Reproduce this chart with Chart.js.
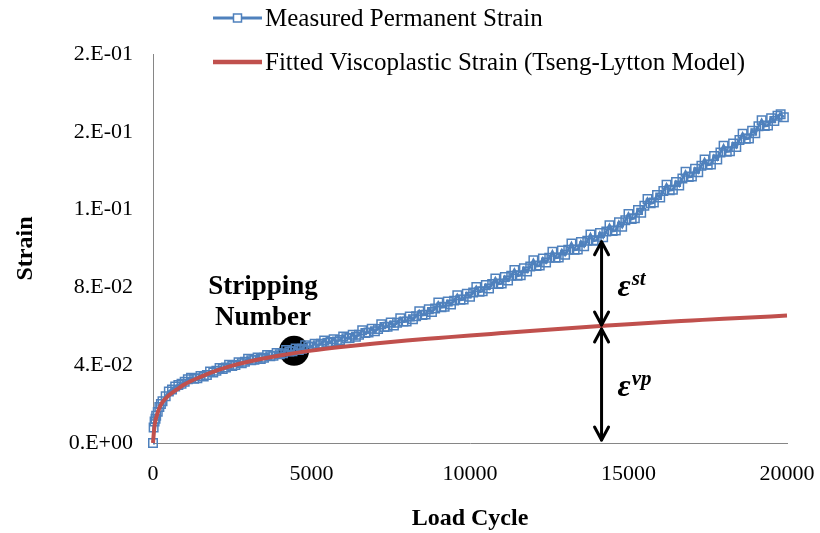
<!DOCTYPE html>
<html>
<head>
<meta charset="utf-8">
<title>Permanent strain vs load cycle</title>
<script src="https://cdn.jsdelivr.net/npm/chart.js@4.4.1/dist/chart.umd.min.js"></script>
<style>
  html, body { margin: 0; padding: 0; background: #fff; }
  #wrap { width: 820px; height: 533px; position: relative; }
</style>
</head>
<body>
<div id="wrap"><canvas id="strainChart"></canvas></div>
<script>
// measured permanent strain from the test log
const measuredCycles = [
  0, 20, 50, 80, 100, 150, 200, 250, 300, 400, 500, 600, 700, 800, 900,
  1000, 1100, 1200, 1300, 1400, 1500, 1600, 1700, 1800, 1900,
  2000, 2100, 2200, 2300, 2400, 2500, 2600, 2700, 2800, 2900,
  3000, 3100, 3200, 3300, 3400, 3500, 3600, 3700, 3800, 3900,
  4000, 4100, 4200, 4300, 4400, 4500, 4600, 4700, 4800, 4900,
  5000, 5100, 5200, 5300, 5400, 5500, 5600, 5700, 5800, 5900,
  6000, 6100, 6200, 6300, 6400, 6500, 6600, 6700, 6800, 6900,
  7000, 7100, 7200, 7300, 7400, 7500, 7600, 7700, 7800, 7900,
  8000, 8100, 8200, 8300, 8400, 8500, 8600, 8700, 8800, 8900,
  9000, 9100, 9200, 9300, 9400, 9500, 9600, 9700, 9800, 9900,
  10000, 10100, 10200, 10300, 10400, 10500, 10600, 10700, 10800, 10900,
  11000, 11100, 11200, 11300, 11400, 11500, 11600, 11700, 11800, 11900,
  12000, 12100, 12200, 12300, 12400, 12500, 12600, 12700, 12800, 12900,
  13000, 13100, 13200, 13300, 13400, 13500, 13600, 13700, 13800, 13900,
  14000, 14100, 14200, 14300, 14400, 14500, 14600, 14700, 14800, 14900,
  15000, 15100, 15200, 15300, 15400, 15500, 15600, 15700, 15800, 15900,
  16000, 16100, 16200, 16300, 16400, 16500, 16600, 16700, 16800, 16900,
  17000, 17100, 17200, 17300, 17400, 17500, 17600, 17700, 17800, 17900,
  18000, 18100, 18200, 18300, 18400, 18500, 18600, 18700, 18800, 18900,
  19000, 19100, 19200, 19300, 19400, 19500, 19600, 19700, 19800, 19900
];
const measuredStrain = [
  0, 0.0080, 0.0110, 0.0125, 0.0140, 0.0160, 0.0185, 0.0200, 0.0215, 0.0240, 0.0265, 0.0275, 0.0290, 0.0298, 0.0305,
  0.0315, 0.0328, 0.0335, 0.0330, 0.0333, 0.0345, 0.0342, 0.0350, 0.0368, 0.0362,
  0.0372, 0.0385, 0.0380, 0.0388, 0.0402, 0.0396, 0.0401, 0.0415, 0.0410, 0.0418,
  0.0433, 0.0425, 0.0428, 0.0440, 0.0432, 0.0438, 0.0452, 0.0446, 0.0449, 0.0463,
  0.0456, 0.0462, 0.0478, 0.0470, 0.0472, 0.0486, 0.0478, 0.0485, 0.0502, 0.0494,
  0.0496, 0.0510, 0.0502, 0.0510, 0.0527, 0.0516, 0.0519, 0.0533, 0.0522, 0.0530,
  0.0548, 0.0538, 0.0540, 0.0557, 0.0546, 0.0556, 0.0580, 0.0566, 0.0568, 0.0588,
  0.0575, 0.0586, 0.0610, 0.0596, 0.0598, 0.0620, 0.0604, 0.0618, 0.0642, 0.0624,
  0.0625, 0.0650, 0.0636, 0.0652, 0.0678, 0.0658, 0.0660, 0.0688, 0.0674, 0.0692,
  0.0722, 0.0698, 0.0700, 0.0728, 0.0712, 0.0732, 0.0760, 0.0736, 0.0738, 0.0768,
  0.0752, 0.0774, 0.0802, 0.0778, 0.0780, 0.0812, 0.0794, 0.0818, 0.0846, 0.0818,
  0.0820, 0.0854, 0.0836, 0.0860, 0.0890, 0.0860, 0.0862, 0.0898, 0.0882, 0.0908,
  0.0940, 0.0910, 0.0912, 0.0948, 0.0928, 0.0952, 0.0983, 0.0952, 0.0954, 0.0990,
  0.0968, 0.0994, 0.1026, 0.0993, 0.0995, 0.1034, 0.1012, 0.1040, 0.1072, 0.1040,
  0.1042, 0.1080, 0.1058, 0.1088, 0.1120, 0.1090, 0.1092, 0.1135, 0.1112, 0.1145,
  0.1178, 0.1152, 0.1156, 0.1198, 0.1184, 0.1220, 0.1255, 0.1232, 0.1236, 0.1275,
  0.1262, 0.1296, 0.1328, 0.1300, 0.1302, 0.1342, 0.1324, 0.1360, 0.1394, 0.1368,
  0.1370, 0.1410, 0.1392, 0.1426, 0.1458, 0.1430, 0.1432, 0.1475, 0.1458, 0.1494,
  0.1528, 0.1498, 0.1500, 0.1540, 0.1522, 0.1558, 0.1590, 0.1564, 0.1566, 0.1606,
  0.1592, 0.1628, 0.1660, 0.1630, 0.1632, 0.1670, 0.1655, 0.1682, 0.1690, 0.1675
];

// Tseng-Lytton viscoplastic fit
const fittedCycles = [
  0, 25, 50, 100, 200, 300, 500, 750, 1000, 1500, 2000, 2500, 3000,
  4000, 5000, 6000, 7000, 8000, 9000, 10000, 11000, 12000, 13000,
  14000, 15000, 16000, 17000, 18000, 19000, 20000
];
const fittedStrain = [
  0, 0.0050, 0.0090, 0.0130, 0.0180, 0.0210, 0.0245, 0.0275, 0.0302, 0.0340, 0.0372, 0.0398, 0.0418,
  0.0450, 0.0475, 0.0495, 0.0512, 0.0527, 0.0540, 0.0553, 0.0565, 0.0577, 0.0589,
  0.0600, 0.0611, 0.0621, 0.0630, 0.0639, 0.0647, 0.0655
];

const xTicks = [0, 5000, 10000, 15000, 20000];
const yTicks = [0, 0.04, 0.08, 0.12, 0.16, 0.20];

// stripping number marker and the strain split shown with arrows
const strippingCycle = 4450;
const strippingStrain = 0.0474;
const splitCycle = 14150;
const splitMeasured = 0.1040;

const blue = '#4F81BD';
const red = '#C0504D';
const serif = '"Liberation Serif", "Times New Roman", serif';

function toPoints(xs, ys) {
  return xs.map((x, i) => ({ x: x, y: ys[i] }));
}

// Excel style "0.E+00" labels
function sciLabel(v) {
  const parts = v.toExponential(0).split('e');
  const exp = parseInt(parts[1], 10);
  return parts[0] + '.E' + (exp < 0 ? '-' : '+') + String(Math.abs(exp)).padStart(2, '0');
}

function fittedAt(c) {
  for (let i = 1; i < fittedCycles.length; i++) {
    if (c <= fittedCycles[i]) {
      const t = (c - fittedCycles[i - 1]) / (fittedCycles[i] - fittedCycles[i - 1]);
      return fittedStrain[i - 1] + t * (fittedStrain[i] - fittedStrain[i - 1]);
    }
  }
  return fittedStrain[fittedStrain.length - 1];
}

function arrowHead(ctx, x, tipY, dir) {
  ctx.beginPath();
  ctx.moveTo(x - 7, tipY - dir * 13);
  ctx.lineTo(x, tipY);
  ctx.lineTo(x + 7, tipY - dir * 13);
  ctx.stroke();
}

function epsLabel(ctx, x, midY, sup) {
  ctx.textAlign = 'left';
  ctx.textBaseline = 'alphabetic';
  ctx.font = 'italic bold 32px ' + serif;
  ctx.fillText('\u03b5', x, midY + 13);
  const w = ctx.measureText('\u03b5').width;
  ctx.font = 'italic bold 21px ' + serif;
  ctx.fillText(sup, x + w + 1, midY + 2);
}

const annotations = {
  id: 'annotations',
  afterDatasetsDraw(chart) {
    const ctx = chart.ctx;
    const xs = chart.scales.x, ys = chart.scales.y;
    ctx.save();
    ctx.strokeStyle = '#000';
    ctx.fillStyle = '#000';
    ctx.lineWidth = 3;
    ctx.lineCap = 'round';
    ctx.lineJoin = 'round';

    const ax = xs.getPixelForValue(splitCycle);
    const yTop = ys.getPixelForValue(splitMeasured);
    const yMid = ys.getPixelForValue(fittedAt(splitCycle));
    const yBot = ys.getPixelForValue(0) - 3;

    // upper arrow: stripping strain
    ctx.beginPath();
    ctx.moveTo(ax, yTop + 1);
    ctx.lineTo(ax, yMid - 1);
    ctx.stroke();
    arrowHead(ctx, ax, yTop + 1, -1);
    arrowHead(ctx, ax, yMid - 1, 1);

    // lower arrow: viscoplastic strain
    ctx.beginPath();
    ctx.moveTo(ax, yMid + 3);
    ctx.lineTo(ax, yBot);
    ctx.stroke();
    arrowHead(ctx, ax, yMid + 3, -1);
    arrowHead(ctx, ax, yBot, 1);

    epsLabel(ctx, ax + 16, (yTop + yMid) / 2, 'st');
    epsLabel(ctx, ax + 16, (yMid + yBot) / 2, 'vp');

    // stripping number caption
    const sx = xs.getPixelForValue(strippingCycle);
    const sy = ys.getPixelForValue(strippingStrain);
    ctx.font = 'bold 27px ' + serif;
    ctx.textAlign = 'center';
    ctx.textBaseline = 'middle';
    ctx.fillText('Stripping', sx - 31, sy - 64);
    ctx.fillText('Number', sx - 31, sy - 33);
    ctx.restore();
  },
  afterDraw(chart) {
    const ctx = chart.ctx;
    ctx.save();
    ctx.font = '25px ' + serif;
    ctx.textAlign = 'left';
    ctx.textBaseline = 'middle';
    ctx.fillStyle = '#000';

    // measured series key
    ctx.strokeStyle = blue;
    ctx.lineWidth = 3;
    ctx.beginPath();
    ctx.moveTo(213, 18);
    ctx.lineTo(262, 18);
    ctx.stroke();
    ctx.lineWidth = 1.5;
    ctx.fillStyle = '#fff';
    ctx.fillRect(233.5, 14, 8, 8);
    ctx.strokeRect(233.5, 14, 8, 8);
    ctx.fillStyle = '#000';
    ctx.fillText('Measured Permanent Strain', 265, 19);

    // fitted series key
    ctx.strokeStyle = red;
    ctx.lineWidth = 4.5;
    ctx.beginPath();
    ctx.moveTo(213, 62);
    ctx.lineTo(262, 62);
    ctx.stroke();
    ctx.fillText('Fitted Viscoplastic Strain (Tseng-Lytton Model)', 265, 63);
    ctx.restore();
  }
};

new Chart(document.getElementById('strainChart'), {
  type: 'scatter',
  data: {
    datasets: [
      {
        label: 'Fitted Viscoplastic Strain (Tseng-Lytton Model)',
        data: toPoints(fittedCycles, fittedStrain),
        showLine: true,
        borderColor: red,
        borderWidth: 4,
        pointRadius: 0,
        cubicInterpolationMode: 'monotone',
        clip: false,
        order: 0
      },
      {
        label: 'Measured Permanent Strain',
        data: toPoints(measuredCycles, measuredStrain),
        showLine: true,
        borderColor: blue,
        borderWidth: 2.75,
        pointStyle: 'rect',
        pointRadius: 6,
        pointBorderWidth: 1.5,
        pointBorderColor: blue,
        pointBackgroundColor: 'rgba(255,255,255,0)',
        tension: 0,
        clip: false,
        order: 1
      },
      {
        label: 'Stripping Number',
        data: [{ x: strippingCycle, y: strippingStrain }],
        pointRadius: 15,
        pointBackgroundColor: '#000',
        pointBorderWidth: 0,
        order: 2
      }
    ]
  },
  options: {
    responsive: true,
    maintainAspectRatio: false,
    animation: false,
    events: [],
    layout: { padding: { top: 54, right: 33, left: 0, bottom: 0 } },
    plugins: {
      legend: { display: false },
      tooltip: { enabled: false }
    },
    scales: {
      x: {
        type: 'linear',
        min: 0,
        max: 20000,
        afterBuildTicks: s => { s.ticks = xTicks.map(v => ({ value: v })); },
        afterFit: s => { s.height = 90; s.paddingLeft = 0; s.paddingRight = 0; },
        grid: { display: false, drawTicks: false },
        border: { display: true, color: '#868686', width: 1 },
        ticks: {
          color: '#000',
          font: { family: serif, size: 22 },
          padding: 18,
          maxRotation: 0,
          callback: v => String(v)
        },
        title: {
          display: true,
          text: 'Load Cycle',
          color: '#000',
          font: { family: serif, size: 24, weight: 'bold' },
          padding: { top: 0, bottom: 0 }
        }
      },
      y: {
        type: 'linear',
        min: 0,
        max: 0.2,
        afterBuildTicks: s => { s.ticks = yTicks.map(v => ({ value: v })); },
        afterFit: s => { s.width = 153; s.paddingTop = 0; s.paddingBottom = 0; },
        grid: { display: false, drawTicks: false },
        border: { display: true, color: '#868686', width: 1 },
        ticks: {
          color: '#000',
          font: { family: serif, size: 22 },
          padding: 20,
          callback: v => sciLabel(v)
        },
        title: {
          display: true,
          text: 'Strain',
          color: '#000',
          font: { family: serif, size: 24, weight: 'bold' },
          padding: { top: 11, bottom: 0 }
        }
      }
    }
  },
  plugins: [annotations]
});
</script>
</body>
</html>
